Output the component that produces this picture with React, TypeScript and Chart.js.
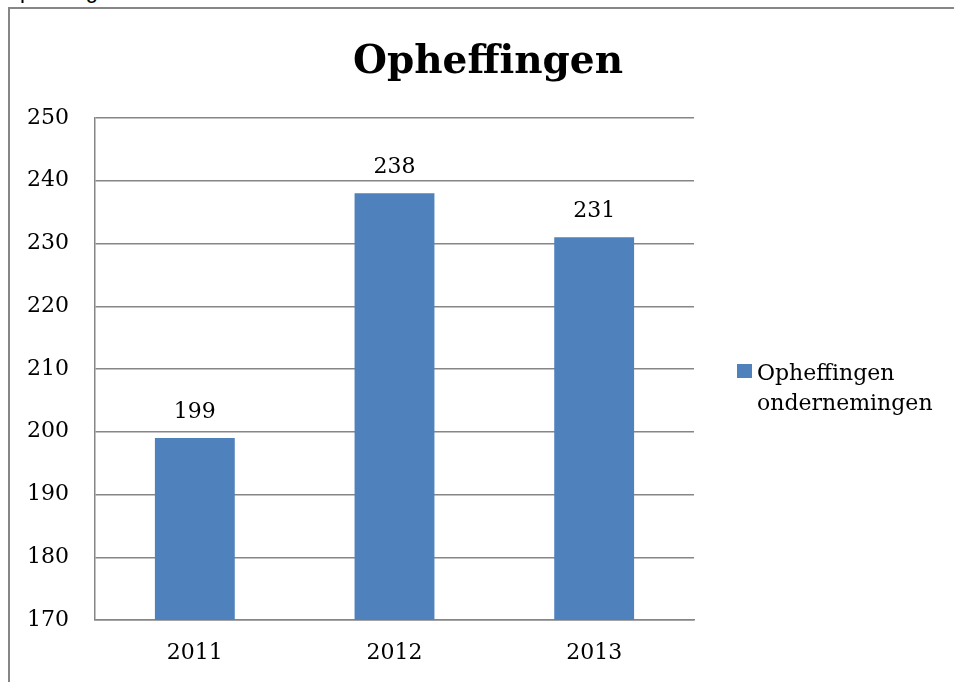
import React, { useEffect, useRef } from "react";
import { Chart, registerables } from "chart.js";

Chart.register(...registerables);

const TITLE = "Opheffingen";
const SERIES_LABEL = "Opheffingen ondernemingen";
const LEGEND_LINES = ["Opheffingen", "ondernemingen"];
const CATEGORIES = ["2011", "2012", "2013"];
const VALUES = [199, 238, 231];
const Y_MIN = 170;
const Y_MAX = 250;
const Y_STEP = 10;

const BAR_COLOR = "#4F81BD";
const GRID = "#868686";
const FONT = "'DejaVu Serif', serif";

export default function App() {
  const ref = useRef<HTMLCanvasElement>(null);

  useEffect(() => {
    if (!ref.current) return;

    const titlePlugin = {
      id: "customTitle",
      afterDraw(chart: any) {
        const ctx = chart.ctx;
        ctx.save();
        ctx.font = `bold 39px ${FONT}`;
        ctx.fillStyle = "#000";
        ctx.textAlign = "center";
        ctx.textBaseline = "alphabetic";
        ctx.fillText(TITLE, 488, 73);
        ctx.restore();
      },
    };

    const legendPlugin = {
      id: "customLegend",
      afterDraw(chart: any) {
        const ctx = chart.ctx;
        const area = chart.chartArea;
        const cy = (area.top + area.bottom) / 2;
        const x0 = area.right + 43;
        ctx.save();
        ctx.fillStyle = chart.data.datasets[0].backgroundColor;
        ctx.fillRect(x0, cy - 5, 15, 14);
        ctx.font = `22px ${FONT}`;
        ctx.fillStyle = "#000";
        ctx.textAlign = "left";
        ctx.textBaseline = "alphabetic";
        LEGEND_LINES.forEach((line, i) => {
          ctx.fillText(line, x0 + 20, cy + 11 + i * 30);
        });
        ctx.restore();
      },
    };

    const labelPlugin = {
      id: "valueLabels",
      afterDatasetsDraw(chart: any) {
        const ctx = chart.ctx;
        const meta = chart.getDatasetMeta(0);
        ctx.save();
        ctx.font = `22px ${FONT}`;
        ctx.fillStyle = "#000";
        ctx.textAlign = "center";
        ctx.textBaseline = "alphabetic";
        meta.data.forEach((bar: any, i: number) => {
          ctx.fillText(String(chart.data.datasets[0].data[i]), bar.x, bar.y - 20);
        });
        ctx.restore();
      },
    };

    const chart = new Chart(ref.current, {
      type: "bar",
      data: {
        labels: CATEGORIES,
        datasets: [
          {
            label: SERIES_LABEL,
            data: VALUES,
            backgroundColor: BAR_COLOR,
            borderWidth: 0,
            barPercentage: 0.4,
            categoryPercentage: 1,
          },
        ],
      },
      options: {
        responsive: false,
        animation: false,
        layout: { padding: { left: 15, right: 260, top: 118, bottom: 0 } },
        plugins: {
          legend: { display: false },
          title: { display: false },
          tooltip: { enabled: false },
        },
        scales: {
          x: {
            grid: { display: false, drawTicks: false },
            border: { display: true, color: GRID, width: 1.5 },
            ticks: { font: { family: FONT, size: 22 }, color: "#000", padding: 20 },
            afterFit: (s: any) => {
              s.height = 62;
            },
          },
          y: {
            min: Y_MIN,
            max: Y_MAX,
            ticks: {
              stepSize: Y_STEP,
              font: { family: FONT, size: 22 },
              color: "#000",
              padding: 26,
            },
            grid: { color: GRID, lineWidth: 1.5, drawTicks: false },
            border: { display: true, color: GRID, width: 1.5 },
            afterFit: (s: any) => {
              s.width = 80;
            },
          },
        },
      },
      plugins: [titlePlugin, legendPlugin, labelPlugin],
    });

    return () => chart.destroy();
  }, []);

  return (
    <div style={{ position: "fixed", left: 0, top: 0, width: 954, height: 682, overflow: "hidden", background: "#fff" }}>
      <div
        style={{
          position: "absolute",
          left: 3,
          top: -20,
          fontFamily: "'Liberation Sans', sans-serif",
          fontSize: 22,
          lineHeight: "22px",
          color: "#000",
          whiteSpace: "nowrap",
        }}
      >
        Opheffingen
      </div>
      <div
        style={{
          position: "absolute",
          left: 8,
          top: 7,
          width: 2000,
          height: 2000,
          borderLeft: `2px solid ${GRID}`,
          borderTop: `2px solid ${GRID}`,
        }}
      />
      <canvas
        ref={ref}
        width={954}
        height={682}
        style={{ position: "absolute", left: 0, top: 0, width: 954, height: 682, display: "block" }}
      />
    </div>
  );
}
